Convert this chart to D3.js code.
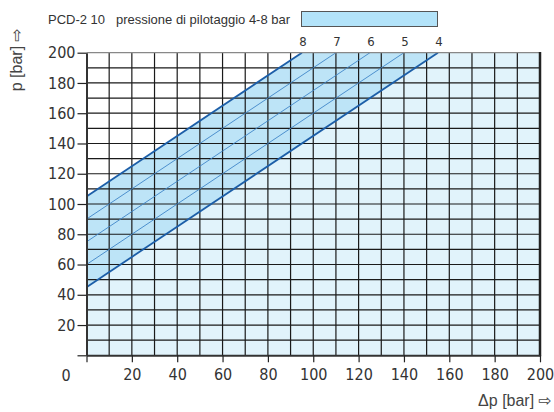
<!DOCTYPE html>
<html lang="it">
<head>
<meta charset="UTF-8">
<title>PCD-2 10</title>
<style>
  html, body { margin: 0; padding: 0; background: #fff; }
  svg { display: block; }
  .tick-label { font-family: "Liberation Sans Narrow", "DejaVu Sans Condensed", sans-serif; font-size: 16px; fill: #333; }
  .small { font-family: "Liberation Sans", "DejaVu Sans", sans-serif; font-size: 13px; fill: #333; }
  .title { font-family: "Liberation Sans", "DejaVu Sans", sans-serif; font-size: 16px; fill: #444; }
</style>
</head>
<body>
<svg id="chart" width="554" height="412"></svg>
<script src="https://d3js.org/d3.v7.min.js"></script>
<script>
  // valori
  const pilotLabels = ["8", "7", "6", "5", "4"];   // pressione di pilotaggio [bar]
  const lineStartP = [105, 90, 75, 60, 45];       // p a Δp = 0
  const lineEndDp = [95, 110, 125, 140, 155];     // Δp dove la retta arriva a p = 200
  const xTicks = [0, 20, 40, 60, 80, 100, 120, 140, 160, 180, 200];
  const yTicks = [0, 20, 40, 60, 80, 100, 120, 140, 160, 180, 200];
  const gridStep = 10;

  const svg = d3.select("#chart");
  const x = d3.scaleLinear().domain([0, 200]).range([86.5, 540]);
  const y = d3.scaleLinear().domain([0, 200]).range([355.3, 52.7]);

  // sfondo area chiara
  svg.append("rect")
    .attr("x", x(0)).attr("y", y(200))
    .attr("width", x(200) - x(0)).attr("height", y(0) - y(200))
    .attr("fill", "#e1f3fb");

  const lo = lineStartP.length - 1;
  // banda tra 4 e 8 bar
  const band = [
    [0, lineStartP[lo]], [lineEndDp[lo], 200], [lineEndDp[0], 200], [0, lineStartP[0]]
  ];
  svg.append("path")
    .attr("d", d3.line().x(d => x(d[0])).y(d => y(d[1]))(band) + "Z")
    .attr("fill", "#bde4f7");

  // zona bianca sopra 8 bar
  const above = [[0, lineStartP[0]], [lineEndDp[0], 200], [0, 200]];
  svg.append("path")
    .attr("d", d3.line().x(d => x(d[0])).y(d => y(d[1]))(above) + "Z")
    .attr("fill", "#fff");

  // griglia
  const gx = d3.range(gridStep, 200, gridStep);
  svg.append("g").selectAll("line").data(gx).join("line")
    .attr("x1", d => x(d)).attr("x2", d => x(d))
    .attr("y1", y(0)).attr("y2", y(200))
    .attr("stroke", "#1a1a1a").attr("stroke-width", 1.2);
  svg.append("g").selectAll("line").data(gx).join("line")
    .attr("x1", x(0)).attr("x2", x(200))
    .attr("y1", d => y(d)).attr("y2", d => y(d))
    .attr("stroke", "#1a1a1a").attr("stroke-width", 1.2);

  // rette di pilotaggio
  svg.append("g").selectAll("line").data(pilotLabels).join("line")
    .attr("x1", x(0)).attr("y1", (d, i) => y(lineStartP[i]))
    .attr("x2", (d, i) => x(lineEndDp[i])).attr("y2", y(200))
    .attr("stroke", (d, i) => (i === 0 || i === lo) ? "#1c5ea8" : "#3f86c8")
    .attr("stroke-width", (d, i) => (i === 0 || i === lo) ? 1.8 : 0.9);

  // etichette rette
  svg.append("g").selectAll("text").data(pilotLabels).join("text")
    .attr("class", "tick-label")
    .style("font-size", "13px")
    .attr("x", (d, i) => x(lineEndDp[i]) + 1)
    .attr("y", 46)
    .attr("text-anchor", "middle")
    .text(d => d);

  // cornice
  svg.append("line").attr("x1", x(0)).attr("x2", x(200)).attr("y1", y(200)).attr("y2", y(200))
    .attr("stroke", "#888").attr("stroke-width", 1.2);
  svg.append("line").attr("x1", x(200)).attr("x2", x(200)).attr("y1", y(200) - 0.6).attr("y2", y(0) + 1)
    .attr("stroke", "#222").attr("stroke-width", 2.5);

  // assi
  const xAxis = svg.append("g")
    .attr("transform", `translate(0,${y(0)})`)
    .call(d3.axisBottom(x).tickValues(xTicks).tickSize(7).tickSizeOuter(0).tickPadding(6));
  const yAxis = svg.append("g")
    .attr("transform", `translate(${x(0)},0)`)
    .call(d3.axisLeft(y).tickValues(yTicks).tickSize(9).tickSizeOuter(0).tickPadding(2)
      .tickFormat(d => d === 0 ? "" : d));

  [xAxis, yAxis].forEach(a => {
    a.select(".domain").attr("stroke", "#333").attr("stroke-width", 2);
    a.selectAll(".tick line").attr("stroke", "#222").attr("stroke-width", 1.2);
    a.selectAll(".tick text").attr("class", "tick-label").attr("fill", null).style("font-family", null).style("font-size", null);
  });
  xAxis.attr("font-family", null).attr("font-size", null);
  yAxis.attr("font-family", null).attr("font-size", null);
  xAxis.selectAll(".tick text").attr("dy", "0.71em");
  xAxis.selectAll(".tick").filter(d => d === 0).select("text").attr("dx", -21).attr("y", 14);

  // titoli assi
  svg.append("text").attr("class", "title")
    .attr("text-anchor", "end")
    .attr("x", 552).attr("y", 406)
    .text("Δp [bar] ⇨");
  svg.append("text").attr("class", "title")
    .attr("text-anchor", "end")
    .attr("transform", "translate(22,28) rotate(-90)")
    .text("p [bar] ⇨");

  // legenda
  svg.append("text").attr("class", "small")
    .attr("x", 48).attr("y", 24)
    .attr("xml:space", "preserve")
    .text("PCD-2 10   pressione di pilotaggio 4-8 bar");
  svg.append("rect")
    .attr("x", 301.5).attr("y", 11.5).attr("width", 136).attr("height", 15)
    .attr("fill", "#b3e3f9").attr("stroke", "#555").attr("stroke-width", 1);
</script>
</body>
</html>
